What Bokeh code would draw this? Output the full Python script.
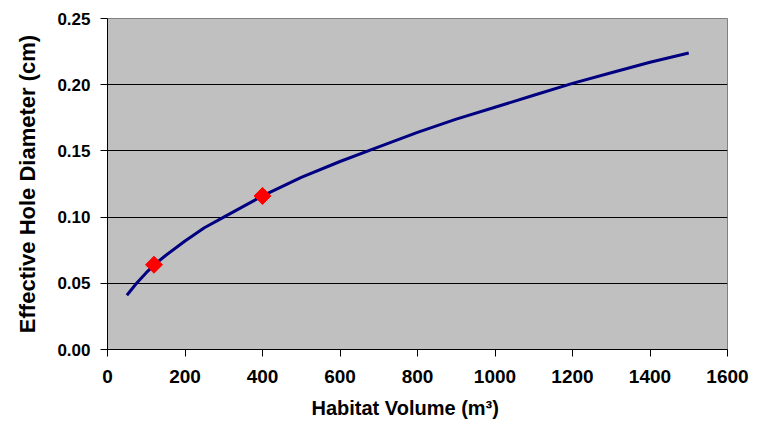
import math
from bokeh.plotting import figure
from bokeh.models import Range1d, FixedTicker, NumeralTickFormatter, Title
from bokeh.embed import file_html
from bokeh.resources import INLINE

# Curve values
volume = [50, 75, 100, 125, 150, 200, 250, 300, 400, 500, 600, 700, 800, 900, 1000, 1100, 1200, 1300, 1400, 1500]
diameter = [0.041, 0.050, 0.058, 0.065, 0.071, 0.082, 0.092, 0.100, 0.116, 0.130, 0.142, 0.153, 0.164, 0.174, 0.183, 0.192, 0.201, 0.209, 0.217, 0.224]

# Marked points
mark_volume = [120, 400]
mark_diameter = [0.064, 0.116]

x_ticks = [0, 200, 400, 600, 800, 1000, 1200, 1400, 1600]
y_ticks = [0.00, 0.05, 0.10, 0.15, 0.20, 0.25]
grid_ticks = [0.05, 0.10, 0.15, 0.20]

x_title = "Habitat Volume (m³)"
y_title = "Effective Hole Diameter (cm)"

FONT = "Liberation Sans"

p = figure(width=763, height=430, output_backend="svg", toolbar_location=None,
           x_range=Range1d(0, 1600), y_range=Range1d(0, 0.25),
           min_border_left=107, min_border_right=36, min_border_top=18, min_border_bottom=81)

p.background_fill_color = "#C0C0C0"
p.border_fill_color = "white"
p.outline_line_color = "#808080"
p.outline_line_width = 1

p.xgrid.visible = False
p.ygrid.ticker = FixedTicker(ticks=grid_ticks)
p.ygrid.grid_line_color = "black"
p.ygrid.grid_line_width = 1

p.line(volume, diameter, line_color="#000080", line_width=3)
p.scatter(mark_volume, mark_diameter, marker="square", angle=math.pi / 4, size=12,
          fill_color="#FF0000", line_color="#FF0000")

for ax in (p.xaxis[0], p.yaxis[0]):
    ax.axis_line_color = "black"
    ax.axis_line_width = 1
    ax.major_tick_line_color = "black"
    ax.major_tick_in = 0
    ax.major_tick_out = 7
    ax.minor_tick_line_color = None
    ax.major_label_text_font = FONT
    ax.major_label_text_font_style = "bold"
    ax.major_label_text_color = "black"
    ax.axis_label_text_font = FONT
    ax.axis_label_text_font_style = "bold"
    ax.axis_label_text_color = "black"

p.xaxis.ticker = FixedTicker(ticks=x_ticks)
p.yaxis.ticker = FixedTicker(ticks=y_ticks)
p.yaxis.formatter = NumeralTickFormatter(format="0.00")

p.yaxis.axis_label = y_title

p.xaxis.major_label_text_font_size = "19px"
p.yaxis.major_label_text_font_size = "17px"
p.yaxis.axis_label_text_font_size = "22px"

p.xaxis.major_label_standoff = 13
p.yaxis.major_label_standoff = 10
p.yaxis.axis_label_standoff = 14

xt = Title(text=x_title, align="left", offset=204, standoff=19, vertical_align="bottom",
           text_font=FONT, text_font_style="bold", text_font_size="20px",
           text_color="black")
p.add_layout(xt, "below")

open("out.html", "w").write(file_html(p, INLINE))
